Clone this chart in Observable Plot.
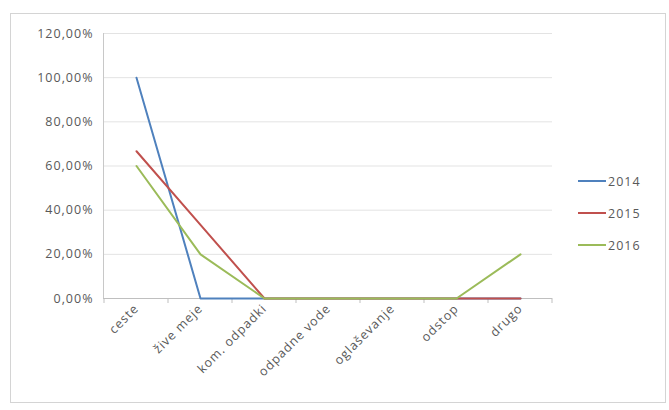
<!DOCTYPE html>
<html><head><meta charset="utf-8">
<script src="https://cdn.jsdelivr.net/npm/d3@7"></script>
<script src="https://cdn.jsdelivr.net/npm/@observablehq/plot@0.6"></script>
<style>
body{margin:0;background:#fff;font-family:"Open Sans","Liberation Sans",sans-serif;}
#wrap{position:relative;width:669px;height:410px;}
#chart{position:absolute;left:0;top:0;}
#frame{position:absolute;left:10px;top:13px;width:656px;height:390px;border:1px solid #d4d4d4;box-sizing:border-box;}
#legend{position:absolute;left:578px;top:165px;font-size:12.5px;letter-spacing:1px;color:#595959;}
#legend div{display:flex;align-items:center;height:32px;}
#legend span.sw{display:inline-block;width:28px;height:2px;margin-right:2px;}
</style></head>
<body><div id="wrap"><div id="frame"></div><div id="chart"></div><div id="legend"></div></div>
<script>
const categories = ["ceste","žive meje","kom. odpadki","odpadne vode","oglaševanje","odstop","drugo"];
const series = ["2014","2015","2016"];
const v2014 = [1.00, 0, 0, 0, 0, 0, 0];
const v2015 = [0.6667, 0.3333, 0, 0, 0, 0, 0];
const v2016 = [0.60, 0.20, 0, 0, 0, 0, 0.20];
const colors = ["#4F81BD","#C0504D","#9BBB59"];
const yTicks = [0, 0.2, 0.4, 0.6, 0.8, 1.0, 1.2];

const values = {"2014": v2014, "2015": v2015, "2016": v2016};
const data = series.flatMap(s => categories.map((c, i) => ({cat: c, year: s, v: values[s][i]})));
const fmt = d => (d*100).toFixed(2).replace(".", ",") + "%";

const boundaryTicks = (index, scales) => {
  const g = d3.create("svg:g");
  const x = scales.x, step = x.step();
  const y0 = scales.y(0);
  const bounds = categories.map(c => x(c) - step/2).concat([x(categories[categories.length-1]) + step/2]);
  for (const b of bounds) {
    g.append("line").attr("x1", b).attr("x2", b).attr("y1", y0).attr("y2", y0 + 5)
      .attr("stroke", "#bfbfbf").attr("stroke-width", 1);
  }
  return g.node();
};

const chart = Plot.plot({
  width: 669, height: 410,
  marginLeft: 103, marginRight: 117, marginTop: 33, marginBottom: 112,
  style: {fontFamily: '"Open Sans","Liberation Sans",sans-serif', fontSize: "12.5px", color: "#595959", background: "transparent", letterSpacing: "1px"},
  x: {type: "point", domain: categories, padding: 0.5, label: null},
  y: {domain: [0, 1.2], ticks: yTicks, tickFormat: fmt, label: null},
  color: {domain: series, range: colors},
  marks: [
    Plot.ruleY(yTicks.slice(1), {stroke: "#e3e3e3", strokeWidth: 1}),
    Plot.frame({anchor: "left", stroke: "#c8c8c8"}),
    Plot.ruleY([0], {stroke: "#bfbfbf"}),
    boundaryTicks,
    Plot.line(data, {x: "cat", y: "v", z: "year", stroke: "year", strokeWidth: 2, curve: "linear"}),
    Plot.axisY({ticks: yTicks, tickFormat: fmt, tickSize: 0, tickPadding: 10, label: null, fill: "#595959"}),
    Plot.axisX({tickRotate: -45, tickSize: 0, tickPadding: 8, label: null, fill: "#595959"})
  ]
});
document.getElementById("chart").appendChild(chart);

const leg = document.getElementById("legend");
series.forEach((s, i) => {
  const row = document.createElement("div");
  row.innerHTML = `<span class="sw" style="background:${colors[i]}"></span>${s}`;
  leg.appendChild(row);
});
</script></body></html>
